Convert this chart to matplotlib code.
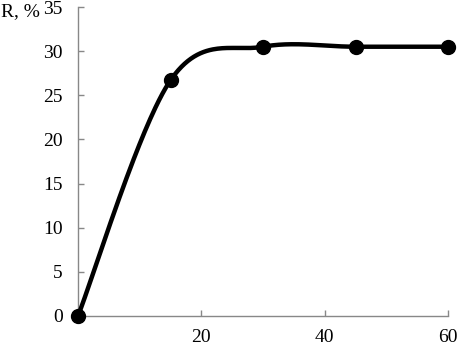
import numpy as np
import matplotlib
matplotlib.use("Agg")
import matplotlib.pyplot as plt

# Data
time_vals = [0, 15, 30, 45, 60]
r_vals = [0, 26.7, 30.5, 30.5, 30.5]
y_ticks = [0, 5, 10, 15, 20, 25, 30, 35]
x_ticks = [20, 40, 60]
y_label = "R, %"

plt.rcParams['font.family'] = ['Liberation Serif', 'DejaVu Serif']

def smooth_curve(xs, ys, n=60):
    P = np.column_stack([xs, ys]).astype(float)
    Pe = np.vstack([P[0], P, P[-1]])
    out = []
    t = np.linspace(0, 1, n)[:, None]
    for i in range(len(P) - 1):
        p0 = Pe[i + 1]
        p3 = Pe[i + 2]
        c1 = p0 + (Pe[i + 2] - Pe[i]) / 6.0
        c2 = p3 - (Pe[i + 3] - Pe[i + 1]) / 6.0
        seg = ((1 - t) ** 3) * p0 + 3 * ((1 - t) ** 2) * t * c1 + 3 * (1 - t) * t ** 2 * c2 + t ** 3 * p3
        out.append(seg if i == 0 else seg[1:])
    arr = np.vstack(out)
    return arr[:, 0], arr[:, 1]

W, H = 457, 346
fig = plt.figure(figsize=(W / 100, H / 100), dpi=100)
ax = fig.add_axes([78 / W, (H - 316) / H, (448 - 78) / W, (316 - 7) / H])

sx, sy = smooth_curve(time_vals, r_vals)
ax.plot(sx, sy, color='black', lw=3.2, solid_capstyle='round', clip_on=False, zorder=3)
ax.plot(time_vals, r_vals, 'o', color='black', ms=10, clip_on=False, zorder=4)

ax.set_xlim(0, 60)
ax.set_ylim(0, 35)
ax.set_xticks(x_ticks)
ax.set_yticks(y_ticks)
for s in ['top', 'right']:
    ax.spines[s].set_visible(False)
for s in ['left', 'bottom']:
    ax.spines[s].set_color('#888888')
    ax.spines[s].set_linewidth(1.0)
ax.tick_params(axis='both', direction='in', length=4, width=1.0, color='#888888',
               labelsize=14, labelcolor='black')
ax.tick_params(axis='x', pad=9.5)
ax.tick_params(axis='y', pad=11)

fig.text(1 / W, 1 - 16 / H, y_label, fontsize=14, ha='left', va='baseline')

fig.savefig('out.png', dpi=100)
